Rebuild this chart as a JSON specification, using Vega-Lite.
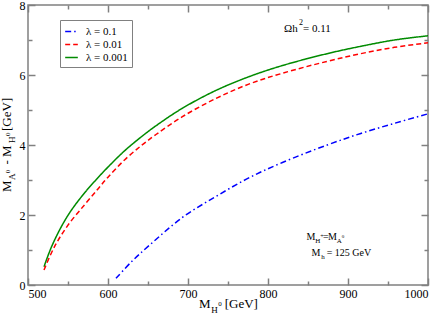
{
  "$schema": "https://vega.github.io/schema/vega-lite/v6.json",
  "width": 400,
  "height": 280,
  "autosize": {"type": "none"},
  "padding": {"left": 28, "top": 5, "right": 15, "bottom": 31},
  "background": "white",
  "data": {"values": [{}]},
  "config": {
    "view": {"stroke": "#808080", "strokeWidth": 1.5},
    "axis": {
      "grid": false,
      "domain": false,
      "ticks": true,
      "tickColor": "#808080",
      "tickWidth": 1.5,
      "labelFont": "Liberation Serif",
      "labelFontSize": 12,
      "labelColor": "black",
      "title": null
    },
    "legend": {"labelFont": "Liberation Serif"},
    "text": {"font": "Liberation Serif", "color": "black", "align": "left", "baseline": "alphabetic"}
  },
  "resolve": {"axis": {"x": "independent", "y": "independent"}},
  "layer": [
    {
      "data": {"values": [
        {"m": 520, "d": 0.52, "lambda": "0.001"},
        {"m": 529, "d": 1.07, "lambda": "0.001"},
        {"m": 542, "d": 1.68, "lambda": "0.001"},
        {"m": 554, "d": 2.13, "lambda": "0.001"},
        {"m": 571, "d": 2.64, "lambda": "0.001"},
        {"m": 586, "d": 3.03, "lambda": "0.001"},
        {"m": 600, "d": 3.37, "lambda": "0.001"},
        {"m": 621, "d": 3.84, "lambda": "0.001"},
        {"m": 642, "d": 4.24, "lambda": "0.001"},
        {"m": 660, "d": 4.55, "lambda": "0.001"},
        {"m": 693, "d": 5.05, "lambda": "0.001"},
        {"m": 735, "d": 5.56, "lambda": "0.001"},
        {"m": 776, "d": 5.95, "lambda": "0.001"},
        {"m": 818, "d": 6.27, "lambda": "0.001"},
        {"m": 874, "d": 6.61, "lambda": "0.001"},
        {"m": 916, "d": 6.82, "lambda": "0.001"},
        {"m": 958, "d": 7.0, "lambda": "0.001"},
        {"m": 1000, "d": 7.12, "lambda": "0.001"},
        {"m": 520, "d": 0.43, "lambda": "0.01"},
        {"m": 533, "d": 1.09, "lambda": "0.01"},
        {"m": 550, "d": 1.71, "lambda": "0.01"},
        {"m": 571, "d": 2.3, "lambda": "0.01"},
        {"m": 588, "d": 2.76, "lambda": "0.01"},
        {"m": 600, "d": 3.08, "lambda": "0.01"},
        {"m": 621, "d": 3.58, "lambda": "0.01"},
        {"m": 642, "d": 3.99, "lambda": "0.01"},
        {"m": 660, "d": 4.3, "lambda": "0.01"},
        {"m": 693, "d": 4.81, "lambda": "0.01"},
        {"m": 735, "d": 5.33, "lambda": "0.01"},
        {"m": 776, "d": 5.74, "lambda": "0.01"},
        {"m": 818, "d": 6.05, "lambda": "0.01"},
        {"m": 874, "d": 6.39, "lambda": "0.01"},
        {"m": 916, "d": 6.61, "lambda": "0.01"},
        {"m": 958, "d": 6.79, "lambda": "0.01"},
        {"m": 1000, "d": 6.92, "lambda": "0.01"},
        {"m": 610, "d": 0.19, "lambda": "0.1"},
        {"m": 630, "d": 0.68, "lambda": "0.1"},
        {"m": 652, "d": 1.14, "lambda": "0.1"},
        {"m": 693, "d": 1.93, "lambda": "0.1"},
        {"m": 735, "d": 2.53, "lambda": "0.1"},
        {"m": 776, "d": 3.06, "lambda": "0.1"},
        {"m": 818, "d": 3.5, "lambda": "0.1"},
        {"m": 874, "d": 4.0, "lambda": "0.1"},
        {"m": 916, "d": 4.33, "lambda": "0.1"},
        {"m": 958, "d": 4.62, "lambda": "0.1"},
        {"m": 1000, "d": 4.89, "lambda": "0.1"}
      ]},
      "mark": {"type": "line", "strokeWidth": 1.5, "interpolate": "catmull-rom"},
      "encoding": {
        "x": {"field": "m", "type": "quantitative",
          "scale": {"domain": [500, 1000], "nice": false, "zero": false},
          "axis": {"orient": "bottom", "values": [500,550,600,650,700,750,800,850,900,950,1000],
            "format": "d",
            "labelExpr": "datum.value % 100 === 0 ? datum.label : ''",
            "tickSize": {"condition": {"test": "datum.value % 100 === 0", "value": -7}, "value": -4},
            "labelPadding": 10}},
        "y": {"field": "d", "type": "quantitative",
          "scale": {"domain": [0, 8], "nice": false},
          "axis": {"orient": "left", "values": [0,1,2,3,4,5,6,7,8],
            "labelExpr": "datum.value % 2 === 0 ? datum.label : ''",
            "tickSize": {"condition": {"test": "datum.value % 2 === 0", "value": -7}, "value": -4},
            "labelPadding": 10}},
        "color": {"field": "lambda", "type": "nominal",
          "scale": {"domain": ["0.1", "0.01", "0.001"], "range": ["#0000ff", "#ff0000", "#008b00"]},
          "legend": {"title": null, "orient": "none", "legendX": 32, "legendY": 15,
            "labelExpr": "'λ = ' + datum.label", "labelFont": "Liberation Serif", "labelFontSize": 11,
            "symbolType": "stroke", "symbolSize": 160, "symbolStrokeWidth": 1.5, "rowPadding": 0,
            "padding": 4, "strokeColor": "#808080", "fillColor": "white", "labelOffset": 7}},
        "strokeDash": {"field": "lambda", "type": "nominal",
          "scale": {"domain": ["0.1", "0.01", "0.001"], "range": [[6, 3, 1.5, 3], [5, 3], [1, 0]]}}
      }
    },
    {
      "mark": {"type": "text", "fontSize": 11},
      "encoding": {
        "text": {"value": "Ωh"},
        "x": {"datum": 820, "type": "quantitative",
          "axis": {"orient": "top", "values": [500,550,600,650,700,750,800,850,900,950,1000], "labels": false,
            "tickSize": {"condition": {"test": "datum.value % 100 === 0", "value": -7}, "value": -4}}},
        "y": {"datum": 7.22, "type": "quantitative",
          "axis": {"orient": "right", "values": [0,1,2,3,4,5,6,7,8], "labels": false,
            "tickSize": {"condition": {"test": "datum.value % 2 === 0", "value": -7}, "value": -4}}}
      }
    },
    {"mark": {"type": "text", "fontSize": 8}, "encoding": {"text": {"value": "2"}, "x": {"datum": 838.75, "type": "quantitative", "axis": null}, "y": {"datum": 7.43, "type": "quantitative", "axis": null}}},
    {"mark": {"type": "text", "fontSize": 11}, "encoding": {"text": {"value": "= 0.11"}, "x": {"datum": 843.75, "type": "quantitative", "axis": null}, "y": {"datum": 7.22, "type": "quantitative", "axis": null}}},

    {"mark": {"type": "text", "fontSize": 10}, "encoding": {"text": {"value": "M"}, "x": {"datum": 848, "type": "quantitative", "axis": null}, "y": {"datum": 1.286, "type": "quantitative", "axis": null}}},
    {"mark": {"type": "text", "fontSize": 7}, "encoding": {"text": {"value": "H"}, "x": {"datum": 859, "type": "quantitative", "axis": null}, "y": {"datum": 1.186, "type": "quantitative", "axis": null}}},
    {"mark": {"type": "text", "fontSize": 6}, "encoding": {"text": {"value": "+"}, "x": {"datum": 865.25, "type": "quantitative", "axis": null}, "y": {"datum": 1.343, "type": "quantitative", "axis": null}}},
    {"mark": {"type": "text", "fontSize": 10}, "encoding": {"text": {"value": "="}, "x": {"datum": 868.75, "type": "quantitative", "axis": null}, "y": {"datum": 1.286, "type": "quantitative", "axis": null}}},
    {"mark": {"type": "text", "fontSize": 10}, "encoding": {"text": {"value": "M"}, "x": {"datum": 875, "type": "quantitative", "axis": null}, "y": {"datum": 1.286, "type": "quantitative", "axis": null}}},
    {"mark": {"type": "text", "fontSize": 7}, "encoding": {"text": {"value": "A"}, "x": {"datum": 885.9, "type": "quantitative", "axis": null}, "y": {"datum": 1.186, "type": "quantitative", "axis": null}}},
    {"mark": {"type": "text", "fontSize": 5}, "encoding": {"text": {"value": "0"}, "x": {"datum": 892.1, "type": "quantitative", "axis": null}, "y": {"datum": 1.343, "type": "quantitative", "axis": null}}},

    {"mark": {"type": "text", "fontSize": 10}, "encoding": {"text": {"value": "M"}, "x": {"datum": 854.25, "type": "quantitative", "axis": null}, "y": {"datum": 0.829, "type": "quantitative", "axis": null}}},
    {"mark": {"type": "text", "fontSize": 7}, "encoding": {"text": {"value": "h"}, "x": {"datum": 866.5, "type": "quantitative", "axis": null}, "y": {"datum": 0.729, "type": "quantitative", "axis": null}}},
    {"mark": {"type": "text", "fontSize": 10}, "encoding": {"text": {"value": "= 125 GeV"}, "x": {"datum": 873.4, "type": "quantitative", "axis": null}, "y": {"datum": 0.829, "type": "quantitative", "axis": null}}},

    {"mark": {"type": "text", "fontSize": 13}, "encoding": {"text": {"value": "M"}, "x": {"datum": 713.75, "type": "quantitative", "axis": null}, "y": {"datum": -0.657, "type": "quantitative", "axis": null}}},
    {"mark": {"type": "text", "fontSize": 9}, "encoding": {"text": {"value": "H"}, "x": {"datum": 729, "type": "quantitative", "axis": null}, "y": {"datum": -0.786, "type": "quantitative", "axis": null}}},
    {"mark": {"type": "text", "fontSize": 7}, "encoding": {"text": {"value": "0"}, "x": {"datum": 737.75, "type": "quantitative", "axis": null}, "y": {"datum": -0.6, "type": "quantitative", "axis": null}}},
    {"mark": {"type": "text", "fontSize": 13}, "encoding": {"text": {"value": "[GeV]"}, "x": {"datum": 745.9, "type": "quantitative", "axis": null}, "y": {"datum": -0.657, "type": "quantitative", "axis": null}}},

    {"mark": {"type": "text", "fontSize": 13, "angle": 270}, "encoding": {"text": {"value": "M"}, "x": {"datum": 479, "type": "quantitative", "axis": null}, "y": {"datum": 2.657, "type": "quantitative", "axis": null}}},
    {"mark": {"type": "text", "fontSize": 9, "angle": 270}, "encoding": {"text": {"value": "A"}, "x": {"datum": 483.3, "type": "quantitative", "axis": null}, "y": {"datum": 3.0, "type": "quantitative", "axis": null}}},
    {"mark": {"type": "text", "fontSize": 7, "angle": 270}, "encoding": {"text": {"value": "0"}, "x": {"datum": 477.1, "type": "quantitative", "axis": null}, "y": {"datum": 3.191, "type": "quantitative", "axis": null}}},
    {"mark": {"type": "text", "fontSize": 13, "angle": 270}, "encoding": {"text": {"value": "- M"}, "x": {"datum": 479, "type": "quantitative", "axis": null}, "y": {"datum": 3.443, "type": "quantitative", "axis": null}}},
    {"mark": {"type": "text", "fontSize": 9, "angle": 270}, "encoding": {"text": {"value": "H"}, "x": {"datum": 483.3, "type": "quantitative", "axis": null}, "y": {"datum": 4.057, "type": "quantitative", "axis": null}}},
    {"mark": {"type": "text", "fontSize": 7, "angle": 270}, "encoding": {"text": {"value": "0"}, "x": {"datum": 477.1, "type": "quantitative", "axis": null}, "y": {"datum": 4.257, "type": "quantitative", "axis": null}}},
    {"mark": {"type": "text", "fontSize": 13, "angle": 270}, "encoding": {"text": {"value": "[GeV]"}, "x": {"datum": 479, "type": "quantitative", "axis": null}, "y": {"datum": 4.4, "type": "quantitative", "axis": null}}}
  ]
}
